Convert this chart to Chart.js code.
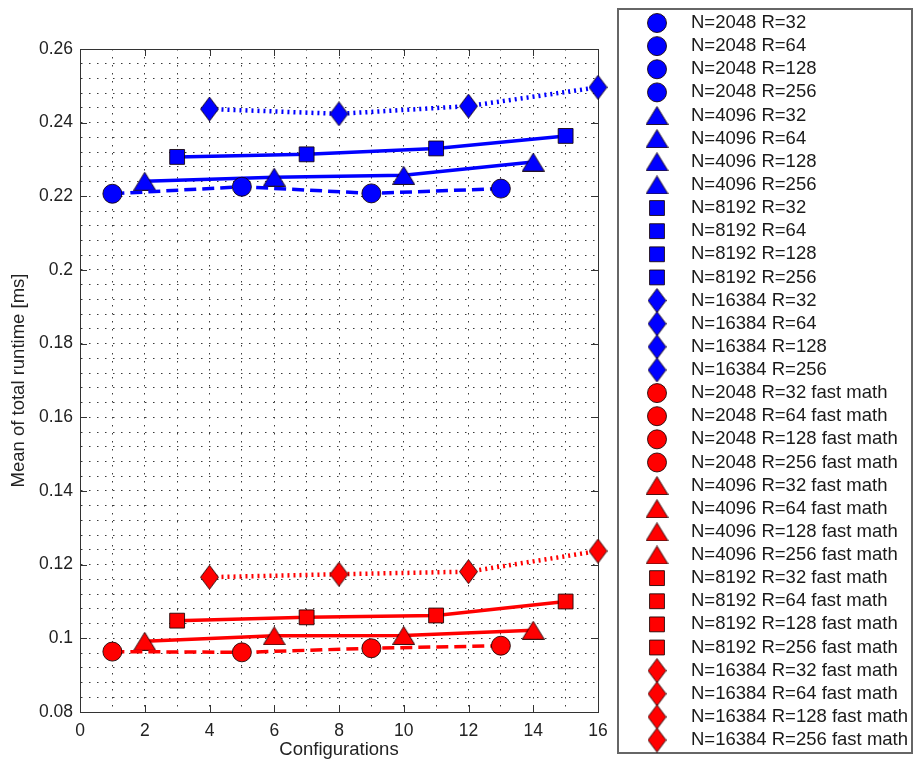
<!DOCTYPE html>
<html>
<head>
<meta charset="utf-8">
<title>Mean of total runtime</title>
<script src="https://cdn.jsdelivr.net/npm/chart.js@4.4.1/dist/chart.umd.min.js"></script>
<style>
	html, body { margin:0; padding:0; background:#fff; }
	canvas { display:block; }
</style>
</head>
<body>
<canvas id="chart" width="914" height="766"></canvas>
<script>
var sizes = [2048, 4096, 8192, 16384];
var radii = [32, 64, 128, 256];

//	configuration number on the x axis for R = 32, 64, 128, 256
var configs2048 = [1, 5, 9, 13];
var configs4096 = [2, 6, 10, 14];
var configs8192 = [3, 7, 11, 15];
var configs16384 = [4, 8, 12, 16];

//	mean of total runtime [ms]
var runtime2048 = [0.2207, 0.2226, 0.2208, 0.2221];
var runtime4096 = [0.2241, 0.2252, 0.2257, 0.2293];
var runtime8192 = [0.2307, 0.2314, 0.2330, 0.2364];
var runtime16384 = [0.2437, 0.2424, 0.2445, 0.2496];

var runtimeFast2048 = [0.0964, 0.0962, 0.0973, 0.0980];
var runtimeFast4096 = [0.0992, 0.1007, 0.1008, 0.1022];
var runtimeFast8192 = [0.1048, 0.1057, 0.1062, 0.1100];
var runtimeFast16384 = [0.1166, 0.1174, 0.1181, 0.1237];

var xLabelStep = 2;
var yLabelStep = 0.02;

var BLUE = "rgb(0,0,255)";
var RED = "rgb(255,0,0)";
var EDGE = "rgba(20,0,0,0.85)";
var FONT = "'Liberation Sans', Arial, Helvetica, sans-serif";

var makeMarker = function(shape, fill)
{
	var w = shape == 'diamond' ? 19 : 23;
	var h = shape == 'diamond' ? 25 : 19;
	var c = document.createElement('canvas');
	c.width = w;
	c.height = h;
	var g = c.getContext('2d');
	g.beginPath();
	if( shape == 'diamond' )
	{
		g.moveTo(w/2, 0.5);
		g.lineTo(w-0.5, h/2);
		g.lineTo(w/2, h-0.5);
		g.lineTo(0.5, h/2);
	}
	else
	{
		g.moveTo(w/2, 0.5);
		g.lineTo(w-0.5, h-0.5);
		g.lineTo(0.5, h-0.5);
	}
	g.closePath();
	g.fillStyle = fill;
	g.fill();
	g.strokeStyle = EDGE;
	g.lineWidth = 1;
	g.stroke();
	return c;
};

var markers = {};
[BLUE, RED].forEach(function(color)
{
	markers[color] = [ 'circle', makeMarker('triangle', color), 'rect', makeMarker('diamond', color) ];
});
var markerRadius = [9.5, 11, 10.5, 12];
var lineDash = [ [12, 6], [], [], [2, 4] ];

var series = [
	{ n:0, x:configs2048, y:runtime2048, fast:false },
	{ n:1, x:configs4096, y:runtime4096, fast:false },
	{ n:2, x:configs8192, y:runtime8192, fast:false },
	{ n:3, x:configs16384, y:runtime16384, fast:false },
	{ n:0, x:configs2048, y:runtimeFast2048, fast:true },
	{ n:1, x:configs4096, y:runtimeFast4096, fast:true },
	{ n:2, x:configs8192, y:runtimeFast8192, fast:true },
	{ n:3, x:configs16384, y:runtimeFast16384, fast:true }
];

var datasets = series.map(function(s)
{
	var color = s.fast ? RED : BLUE;
	return {
		label: 'N=' + sizes[s.n] + (s.fast ? ' fast math' : ''),
		data: s.x.map(function(x, i) { return { x:x, y:s.y[i] }; }),
		showLine: true,
		borderColor: color,
		borderWidth: s.n == 3 ? 4.5 : 3.5,
		borderDash: lineDash[s.n],
		pointStyle: markers[color][s.n],
		pointRadius: markerRadius[s.n],
		pointHoverRadius: markerRadius[s.n],
		pointBackgroundColor: color,
		pointBorderColor: EDGE,
		pointBorderWidth: 1,
		tension: 0,
		clip: false
	};
});

//	one legend entry per (N, R) point, like the original figure
var legendItems = [];
[false, true].forEach(function(fast)
{
	sizes.forEach(function(n, i)
	{
		radii.forEach(function(r)
		{
			legendItems.push({
				text: 'N=' + n + ' R=' + r + (fast ? ' fast math' : ''),
				color: fast ? RED : BLUE,
				n: i
			});
		});
	});
});

var isMultiple = function(v, step)
{
	return Math.abs(v/step - Math.round(v/step)) < 1e-6;
};

var framePlugin = {
	id: 'frame',
	beforeDatasetsDraw: function(chart)
	{
		var ctx = chart.ctx;
		var a = chart.chartArea;
		var xs = chart.scales.x;
		var ys = chart.scales.y;
		ctx.save();
		ctx.strokeStyle = '#333';
		ctx.lineWidth = 1;
		ctx.beginPath();
		for( var v = xs.min; v <= xs.max; v += xLabelStep )
		{
			var px = Math.round(xs.getPixelForValue(v)) + 0.5;
			ctx.moveTo(px, a.bottom); ctx.lineTo(px, a.bottom - 7);
			ctx.moveTo(px, a.top); ctx.lineTo(px, a.top + 7);
		}
		ys.ticks.forEach(function(t)
		{
			if( !isMultiple(t.value, yLabelStep) ) return;
			var py = Math.round(ys.getPixelForValue(t.value)) + 0.5;
			ctx.moveTo(a.left, py); ctx.lineTo(a.left + 7, py);
			ctx.moveTo(a.right, py); ctx.lineTo(a.right - 7, py);
		});
		ctx.stroke();
		ctx.strokeRect(Math.round(a.left) + 0.5, Math.round(a.top) + 0.5, Math.round(a.right - a.left), Math.round(a.bottom - a.top));
		ctx.restore();
	},
	afterDraw: function(chart)
	{
		var ctx = chart.ctx;
		ctx.save();
		ctx.strokeStyle = '#666';
		ctx.lineWidth = 2;
		ctx.strokeRect(618, 9, 294, 744);
		ctx.font = '18.5px ' + FONT;
		ctx.textBaseline = 'middle';
		ctx.textAlign = 'left';
		legendItems.forEach(function(item, k)
		{
			var y = 23 + k * 23.13;
			ctx.fillStyle = item.color;
			ctx.strokeStyle = EDGE;
			ctx.lineWidth = 1;
			Chart.helpers.drawPoint(ctx, { pointStyle: markers[item.color][item.n], radius: markerRadius[item.n], rotation: 0, borderWidth: 1 }, 657, y);
			ctx.fillStyle = '#1a1a1a';
			ctx.fillText(item.text, 691, y);
		});
		ctx.restore();
	}
};

Chart.defaults.font.family = FONT;
Chart.defaults.color = '#222';

new Chart(
	document.getElementById('chart'),
	{
		type: 'scatter',
		data: { datasets: datasets },
		plugins: [framePlugin],
		options: {
			responsive: false,
			animation: false,
			devicePixelRatio: 1,
			layout: { padding: { top: 49, right: 316, bottom: 0, left: 0 } },
			plugins: { legend: { display: false }, tooltip: { enabled: false } },
			scales: {
				x: {
					type: 'linear',
					min: 0,
					max: 16,
					afterFit: function(scale) { scale.height = 54; },
					ticks: {
						stepSize: 1,
						autoSkip: false,
						maxRotation: 0,
						padding: 9,
						font: { size: 17.5 },
						color: '#222',
						callback: function(v) { return isMultiple(v, xLabelStep) ? String(v) : ''; }
					},
					grid: { color: '#3a3a3a', lineWidth: 1, drawTicks: false },
					border: { color: '#333', width: 1, dash: [1.5, 6.5] },
					title: { display: true, text: 'Configurations', font: { size: 18.5 }, color: '#222', padding: { top: 0, bottom: 5 } }
				},
				y: {
					type: 'linear',
					min: 0.08,
					max: 0.26,
					afterFit: function(scale) { scale.width = 80; },
					ticks: {
						stepSize: 0.004,
						autoSkip: false,
						padding: 7,
						font: { size: 17.5 },
						color: '#222',
						callback: function(v) { return isMultiple(v, yLabelStep) ? String(parseFloat(v.toFixed(2))) : ''; }
					},
					grid: { color: '#3a3a3a', lineWidth: 1, drawTicks: false },
					border: { color: '#333', width: 1, dash: [1.5, 6.5] },
					title: { display: true, text: 'Mean of total runtime [ms]', font: { size: 18.5 }, color: '#222', padding: { top: 8, bottom: 0 } }
				}
			}
		}
	}
);
</script>
</body>
</html>
